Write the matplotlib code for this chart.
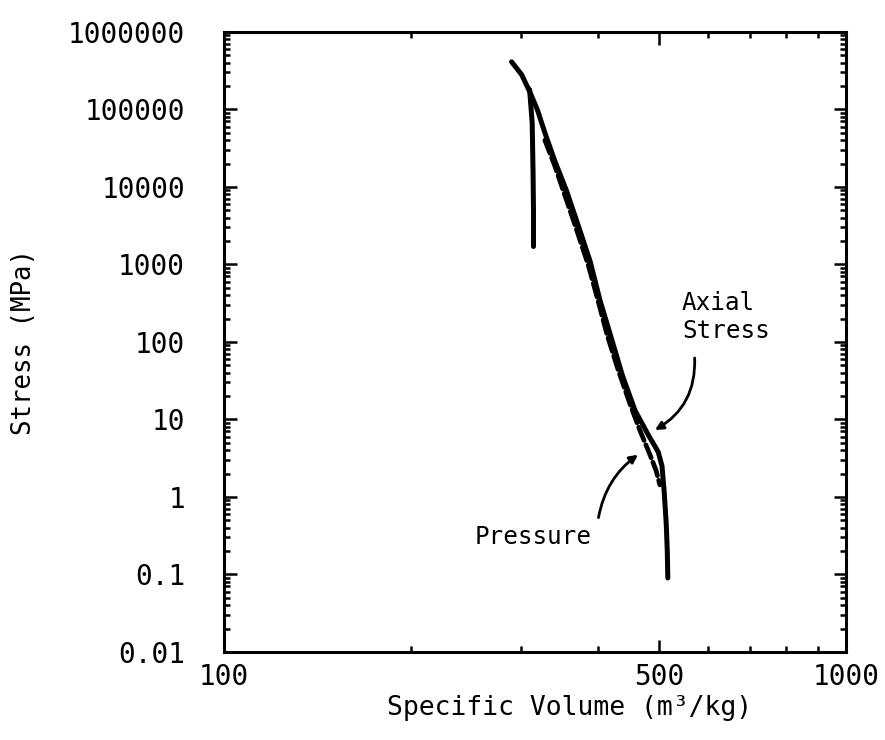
#!/usr/bin/env python3
import matplotlib
matplotlib.use('Agg')
import matplotlib.pyplot as plt
from matplotlib.ticker import FixedLocator, NullFormatter

# data
axial_vol = [290, 301, 310, 319, 328, 340, 355, 371, 388, 402, 418, 437,
             458, 481, 499, 506, 510, 514, 516, 517]
axial_stress = [4.1e5, 2.8e5, 1.7e5, 9.9e4, 5.0e4, 2.2e4, 9100, 3200, 1080,
                350, 123, 37, 13, 6.3, 3.8, 2.5, 1.2, 0.45, 0.2, 0.09]

# unloading branch of the axial stress curve
unload_vol = [310, 313, 314, 314.5, 314.5]
unload_stress = [1.8e5, 6.6e4, 1.5e4, 5000, 1700]

pressure_vol = [328, 340, 353, 368, 385, 399, 413, 430, 450, 466, 484, 495, 502]
pressure_stress = [4.0e4, 1.9e4, 7900, 2960, 990, 350, 123, 44, 15.4, 7.3,
                   3.5, 2.2, 1.43]

y_ticks = [0.01, 0.1, 1, 10, 100, 1000, 10000, 100000, 1000000]
y_labels = ['0.01', '0.1', '1', '10', '100', '1000', '10000', '100000',
            '1000000']
x_ticks = [100, 500, 1000]
x_labels = ['100', '500', '1000']

plt.rcParams['font.family'] = ['DejaVu Sans Mono', 'DejaVu Sans']

fig = plt.figure(figsize=(8.85, 7.4), dpi=100)
ax = fig.add_axes([0.253, 0.119, 0.703, 0.838])

ax.plot(axial_vol, axial_stress, color='black', lw=3.6,
        solid_capstyle='round', solid_joinstyle='round')
ax.plot(unload_vol, unload_stress, color='black', lw=3.6,
        solid_capstyle='round')
ax.plot(pressure_vol, pressure_stress, color='black', lw=3.4,
        ls=(0, (3, 1)), dash_capstyle='round')

ax.set_xscale('log')
ax.set_yscale('log')
ax.set_xlim(100, 1000)
ax.set_ylim(0.01, 1e6)

ax.xaxis.set_major_locator(FixedLocator(x_ticks))
ax.xaxis.set_minor_locator(FixedLocator([200, 300, 400, 600, 700, 800, 900]))
ax.set_xticklabels(x_labels)
ax.xaxis.set_minor_formatter(NullFormatter())

ax.yaxis.set_major_locator(FixedLocator(y_ticks))
minor_y = [m * 10.0 ** e for e in range(-2, 6) for m in range(2, 10)]
ax.yaxis.set_minor_locator(FixedLocator(minor_y))
ax.set_yticklabels(y_labels)
ax.yaxis.set_minor_formatter(NullFormatter())

ax.tick_params(axis='both', which='both', direction='in',
               top=True, right=True, width=1.8, labelsize=20)
ax.tick_params(axis='both', which='major', length=9)
ax.tick_params(axis='both', which='minor', length=4.5)
ax.tick_params(axis='y', which='major', pad=28)
ax.tick_params(axis='x', which='major', pad=8)

for sp in ax.spines.values():
    sp.set_linewidth(2.2)

ax.set_xlabel('Specific Volume (m³/kg)', fontsize=19)
ax.xaxis.set_label_coords(0.555, -0.07)
ax.set_ylabel('Stress (MPa)', fontsize=18.5, labelpad=22)

ax.text(545, 210, 'Axial\nStress', fontsize=17.5, ha='left', va='center',
        linespacing=1.2)
ax.text(253, 0.305, 'Pressure', fontsize=17.5, ha='left', va='center')

arrow = dict(arrowstyle='-|>', color='black', lw=2, mutation_scale=12,
             shrinkA=0, shrinkB=0)
ax.annotate('', xy=(493, 7.3), xytext=(571, 62),
            arrowprops=dict(connectionstyle='arc3,rad=-0.3', **arrow))
ax.annotate('', xy=(463, 3.5), xytext=(400, 0.54),
            arrowprops=dict(connectionstyle='arc3,rad=-0.2', **arrow))

fig.savefig('out.png', dpi=100)
